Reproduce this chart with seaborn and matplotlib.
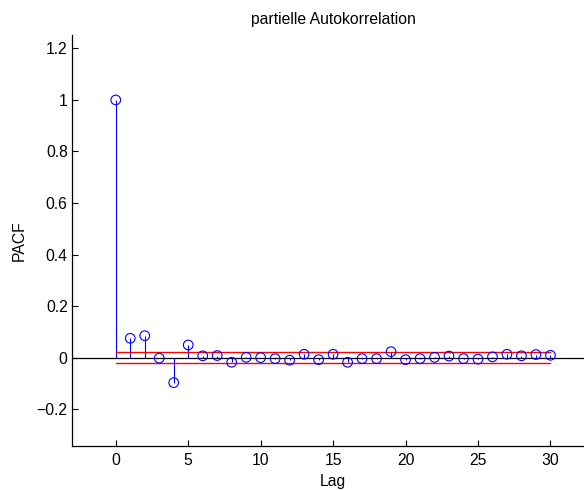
import numpy as np
import pandas as pd
import matplotlib
matplotlib.use("Agg")
import matplotlib.pyplot as plt
import seaborn as sns
from matplotlib.ticker import FuncFormatter

lags = list(range(31))
pacf = [1.0, 0.075, 0.085, -0.002, -0.097, 0.049, 0.007, 0.008, -0.018, 0.001,
        0.0, -0.004, -0.010, 0.013, -0.008, 0.013, -0.018, -0.004, -0.004, 0.023,
        -0.008, -0.004, 0.001, 0.006, -0.004, -0.006, 0.003, 0.013, 0.007, 0.012, 0.009]
conf_upper = 0.021
conf_lower = -0.019
conf_x = [0, 30]
xticks = [0, 5, 10, 15, 20, 25, 30]
yticks = [-0.2, 0, 0.2, 0.4, 0.6, 0.8, 1.0, 1.2]
title = "partielle Autokorrelation"
xlabel = "Lag"
ylabel = "PACF"

sns.set_style("ticks", {"axes.edgecolor": "black", "text.color": "black",
                        "axes.labelcolor": "black", "xtick.color": "black",
                        "ytick.color": "black"})
plt.rcParams['font.family'] = ['Liberation Sans', 'DejaVu Sans']

FS = 11.3
df = pd.DataFrame({"Lag": lags, "PACF": pacf})

fig = plt.figure(figsize=(5.84, 4.90), dpi=100)
ax = fig.add_axes([72.3/584, (490-446)/490, (593.9-72.3)/584, (446-35)/490])

ax.axhline(0, color="black", lw=0.9, zorder=1)
ax.vlines(df["Lag"], 0, df["PACF"], color=(0, 0, 1), lw=0.8, zorder=2)
sns.scatterplot(data=df, x="Lag", y="PACF", ax=ax, marker="o", s=48,
                facecolor="none", edgecolor=(0, 0, 1), linewidth=0.8, zorder=3)
ax.plot(conf_x, [conf_upper]*2, color="red", lw=1.0, zorder=2)
ax.plot(conf_x, [conf_lower]*2, color="red", lw=1.0, zorder=2)

ax.set_xlim(-3, 33)
ax.set_ylim(-0.343, 1.252)
ax.set_xticks(xticks)
ax.set_yticks(yticks)
ax.yaxis.set_major_formatter(FuncFormatter(lambda v, p: ("%g" % round(v, 2)).replace("-", "\u2212")))
ax.tick_params(direction="in", length=4, width=0.8, labelsize=FS)
ax.tick_params(axis="x", pad=5)
ax.tick_params(axis="y", pad=3.3)
for s in ["top", "right"]:
    ax.spines[s].set_visible(False)
for s in ["left", "bottom"]:
    ax.spines[s].set_linewidth(0.9)

ax.set_title(title, fontsize=FS, pad=8.2)
ax.set_xlabel(xlabel, fontsize=FS, labelpad=4.5)
ax.set_ylabel(ylabel, fontsize=FS, labelpad=7)

fig.savefig("out.png", dpi=100)
